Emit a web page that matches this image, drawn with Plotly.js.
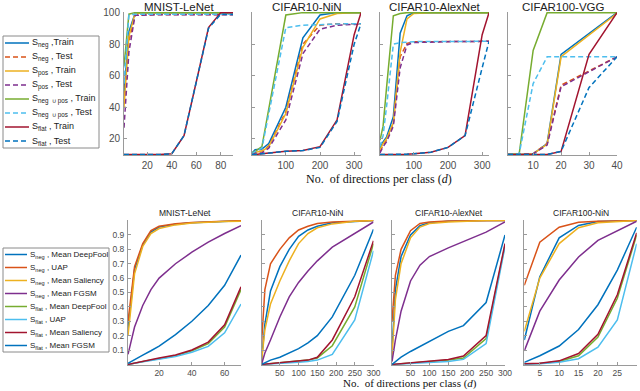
<!DOCTYPE html>
<html>
<head>
<meta charset="utf-8">
<script src="https://cdn.plot.ly/plotly-3.0.1.min.js"></script>
<style>
  html, body { margin: 0; padding: 0; background: #fff; }
  #chart { width: 640px; height: 391px; }
</style>
</head>
<body>
<div id="chart"></div>
<script>
// ---- top row: accuracy (%) vs number of directions per class ----
const topTitles = ['MNIST-LeNet', 'CIFAR10-NiN', 'CIFAR10-AlexNet', 'CIFAR100-VGG'];
const topNames = [
  'S<sub>neg</sub> ,Train', 'S<sub>neg</sub> , Test',
  'S<sub>pos</sub> , Train', 'S<sub>pos</sub> , Test',
  'S<sub>neg  \u222A pos</sub> , Train', 'S<sub>neg  \u222A pos</sub> , Test',
  'S<sub>flat</sub> , Train', 'S<sub>flat</sub> , Test'
];

// rows follow topNames
const mnistTopX = [1, 5, 10, 20, 30, 40, 50, 60, 70, 80, 90];
const mnistTopY = [
  [49, 88, 99.5, 100, 100, 100, 100, 100, 100, 100, 100],
  [42, 82, 98.5, 98.8, 98.8, 98.8, 98.8, 98.8, 98.8, 98.8, 98.8],
  [40, 85, 99.5, 100, 100, 100, 100, 100, 100, 100, 100],
  [27, 75, 98.3, 98.7, 98.7, 98.7, 98.7, 98.7, 98.7, 98.7, 98.7],
  [66, 99, 100, 100, 100, 100, 100, 100, 100, 100, 100],
  [55, 98.5, 99, 99, 99, 99, 99, 99, 99, 99, 99],
  [10, 10, 10, 10, 10, 10.5, 22, 56, 90.5, 100, 100],
  [10, 10, 10, 10, 10, 10.5, 22, 56, 90, 99, 98.8]
];

const nin10TopX = [1, 10, 30, 50, 100, 150, 200, 250, 300, 320];
const nin10TopY = [
  [11, 13, 13.5, 17, 40, 84, 98.5, 100, 100, 100],
  [10.5, 12, 12, 15.5, 37, 80, 92, 93, 93, 93],
  [10.5, 11.5, 12, 15, 36, 78, 96, 99.5, 100, 100],
  [10, 11, 11, 14, 32, 74, 89.5, 92, 92.5, 92.8],
  [11, 12, 15, 39, 98.5, 100, 100, 100, 100, 100],
  [10.5, 12, 14, 36, 90.5, 92, 92.5, 92.8, 93, 93],
  [10, 10, 10.5, 11, 12, 12.5, 15, 32, 86, 100],
  [10, 10, 10.5, 11, 12, 12.5, 14.5, 31, 80, 93]
];

const alex10TopX = [1, 10, 20, 40, 60, 80, 100, 150, 200, 250, 300, 320];
const alex10TopY = [
  [14, 18, 21, 34, 87, 98, 100, 100, 100, 100, 100, 100],
  [12, 16, 19, 30, 72, 80.5, 81.5, 81.6, 81.7, 81.8, 81.8, 81.8],
  [13, 17, 20, 30, 75, 96, 99.5, 100, 100, 100, 100, 100],
  [11, 15, 18, 28, 65, 79.5, 81, 81.5, 81.6, 81.7, 81.8, 81.8],
  [19, 28, 52, 98, 99.5, 100, 100, 100, 100, 100, 100, 100],
  [15, 22, 40, 80, 81, 81.5, 81.6, 81.7, 81.8, 81.8, 81.8, 81.8],
  [10, 10, 10, 10, 10, 10.2, 10.5, 11.5, 14.5, 22, 86, 100],
  [10, 10, 10, 10, 10, 10.2, 10.5, 11.5, 14.5, 22, 65, 81.8]
];

const vgg100TopX = [1, 5, 10, 15, 20, 30, 40];
const vgg100TopY = [
  [10, 10, 10.5, 17, 73.5, 86.8, 100],
  [10, 10, 10.5, 17, 54, 63, 72],
  [10, 10, 10.5, 16.5, 72, 86, 99.5],
  [10, 10, 10.5, 16, 53, 62.5, 72],
  [10, 10.5, 76, 100, 100, 100, 100],
  [10, 10.5, 55, 72, 72, 72, 72],
  [10, 10, 10, 10, 12, 73.5, 100],
  [10, 10, 10, 10, 12, 52.5, 72]
];

// ---- bottom row: fooling rate vs number of directions per class ----
const botTitles = ['MNIST-LeNet', 'CIFAR10-NiN', 'CIFAR10-AlexNet', 'CIFAR100-NiN'];
const botNames = [
  'S<sub>neg</sub> , Mean DeepFool', 'S<sub>neg</sub> , UAP',
  'S<sub>neg</sub> , Mean Saliency', 'S<sub>neg</sub> , Mean FGSM',
  'S<sub>flat</sub> , Mean DeepFool', 'S<sub>flat</sub> , UAP',
  'S<sub>flat</sub> , Mean Saliency', 'S<sub>flat</sub> , Mean FGSM'
];

const mnistBotX = [1, 5, 10, 15, 20, 30, 40, 50, 60, 70];
const mnistBotY = [
  [0.25, 0.66, 0.83, 0.92, 0.955, 0.975, 0.985, 0.99, 0.995, 0.998],
  [0.30, 0.68, 0.84, 0.93, 0.96, 0.978, 0.987, 0.993, 0.996, 1.0],
  [0.20, 0.63, 0.82, 0.91, 0.945, 0.97, 0.983, 0.99, 0.993, 0.996],
  [0.07, 0.26, 0.41, 0.52, 0.60, 0.70, 0.78, 0.85, 0.91, 0.965],
  [0, 0.01, 0.02, 0.03, 0.04, 0.06, 0.095, 0.145, 0.26, 0.52],
  [0, 0.01, 0.018, 0.027, 0.035, 0.055, 0.085, 0.125, 0.22, 0.42],
  [0, 0.01, 0.02, 0.032, 0.045, 0.065, 0.10, 0.155, 0.275, 0.54],
  [0.007, 0.035, 0.065, 0.095, 0.127, 0.207, 0.30, 0.41, 0.55, 0.76]
];

const nin10BotX = [1, 10, 25, 50, 75, 100, 125, 150, 190, 250, 300];
const nin10BotY = [
  [0.02, 0.28, 0.51, 0.68, 0.80, 0.89, 0.935, 0.96, 0.985, 0.995, 1.0],
  [0.14, 0.52, 0.70, 0.80, 0.88, 0.935, 0.96, 0.98, 0.99, 0.998, 1.0],
  [0.02, 0.24, 0.42, 0.58, 0.72, 0.84, 0.91, 0.95, 0.977, 0.995, 1.0],
  [0.0, 0.08, 0.17, 0.33, 0.47, 0.57, 0.65, 0.72, 0.815, 0.91, 0.99],
  [0, 0.002, 0.005, 0.01, 0.015, 0.02, 0.03, 0.045, 0.13, 0.40, 0.84],
  [0, 0.001, 0.003, 0.006, 0.01, 0.015, 0.02, 0.03, 0.07, 0.31, 0.79],
  [0, 0.002, 0.005, 0.01, 0.015, 0.02, 0.03, 0.05, 0.17, 0.47, 0.86],
  [0, 0.01, 0.03, 0.05, 0.08, 0.11, 0.15, 0.20, 0.33, 0.62, 0.94]
];

const alex10BotX = [1, 10, 25, 50, 75, 100, 150, 190, 250, 300];
const alex10BotY = [
  [0.10, 0.52, 0.75, 0.90, 0.965, 0.985, 0.995, 0.998, 1.0, 1.0],
  [0.30, 0.62, 0.80, 0.93, 0.98, 0.99, 0.997, 0.999, 1.0, 1.0],
  [0.05, 0.45, 0.70, 0.88, 0.955, 0.98, 0.99, 0.995, 1.0, 1.0],
  [0.02, 0.17, 0.37, 0.58, 0.69, 0.75, 0.81, 0.855, 0.92, 0.99],
  [0, 0.002, 0.005, 0.01, 0.015, 0.02, 0.03, 0.045, 0.18, 0.83],
  [0, 0.001, 0.003, 0.006, 0.01, 0.012, 0.02, 0.035, 0.145, 0.82],
  [0, 0.002, 0.005, 0.01, 0.015, 0.02, 0.035, 0.058, 0.20, 0.84],
  [0, 0.02, 0.05, 0.09, 0.125, 0.16, 0.23, 0.27, 0.43, 0.90]
];

const nin100BotX = [1, 5, 10, 15, 20, 25, 30];
const nin100BotY = [
  [0.17, 0.61, 0.88, 0.966, 0.993, 0.998, 1.0],
  [0.55, 0.85, 0.954, 0.988, 0.995, 1.0, 1.0],
  [0.23, 0.60, 0.84, 0.95, 0.985, 0.995, 1.0],
  [0.094, 0.37, 0.587, 0.747, 0.862, 0.93, 0.995],
  [0.004, 0.007, 0.02, 0.06, 0.19, 0.46, 0.90],
  [0.002, 0.004, 0.015, 0.04, 0.12, 0.31, 0.84],
  [0.005, 0.008, 0.025, 0.076, 0.209, 0.484, 0.915],
  [0.014, 0.06, 0.128, 0.243, 0.415, 0.656, 0.954]
];

// ---- styles (matlab default palette) ----
const blue = '#0072BD', orange = '#D95319', yellow = '#EDB120', purple = '#7E2F8E',
      green = '#77AC30', cyan = '#4DBEEE', red = '#A2142F';
const DASH = '5px,3px';
const topColors = [blue, orange, yellow, purple, green, cyan, red, blue];
const topDashes = ['solid', DASH, 'solid', DASH, 'solid', DASH, 'solid', DASH];
const botColors = [blue, orange, yellow, purple, green, cyan, red, blue];
const botDashes = Array(8).fill('solid');

// ---- page geometry (px) ----
const W = 640, H = 391;
const fx = p => p / W;
const fy = p => 1 - p / H;
const topCols = [[124, 233], [252, 361], [380, 489], [508, 617]];
const botCols = [[128, 241], [261.5, 373.5], [392, 505], [524.3, 636.7]];
const topRow = [12, 155];
const botRow = [220, 365];

const panels = [
  {title: topTitles[0], x: mnistTopX, ys: mnistTopY, xr: [1, 90], xt: [20, 40, 60, 80]},
  {title: topTitles[1], x: nin10TopX, ys: nin10TopY, xr: [1, 320], xt: [100, 200, 300]},
  {title: topTitles[2], x: alex10TopX, ys: alex10TopY, xr: [1, 320], xt: [100, 200, 300]},
  {title: topTitles[3], x: vgg100TopX, ys: vgg100TopY, xr: [1, 40], xt: [10, 20, 30, 40]},
  {title: botTitles[0], x: mnistBotX, ys: mnistBotY, xr: [1, 70], xt: [20, 40, 60]},
  {title: botTitles[1], x: nin10BotX, ys: nin10BotY, xr: [1, 300], xt: [50, 100, 150, 200, 250, 300]},
  {title: botTitles[2], x: alex10BotX, ys: alex10BotY, xr: [1, 300], xt: [50, 100, 150, 200, 250, 300]},
  {title: botTitles[3], x: nin100BotX, ys: nin100BotY, xr: [1, 30], xt: [5, 10, 15, 20, 25, 30]}
];

const sans = 'Liberation Sans, Arial, Helvetica, sans-serif';
const serif = 'Liberation Serif, Times New Roman, serif';
const axisGray = '#9a9a9a';

const traces = [];
const layout = {
  width: W, height: H,
  margin: {l: 0, r: 0, t: 0, b: 0},
  paper_bgcolor: 'white', plot_bgcolor: 'white',
  showlegend: false,
  font: {family: sans, color: '#333'},
  shapes: [], annotations: []
};

panels.forEach((p, i) => {
  const k = i === 0 ? '' : String(i + 1);
  const isTop = i < 4;
  const col = isTop ? topCols[i] : botCols[i - 4];
  const row = isTop ? topRow : botRow;
  const colors = isTop ? topColors : botColors;
  const dashes = isTop ? topDashes : botDashes;

  p.ys.forEach((y, j) => {
    traces.push({
      x: p.x, y: y, xaxis: 'x' + k, yaxis: 'y' + k,
      type: 'scatter', mode: 'lines',
      line: {color: colors[j], width: 1.5, dash: dashes[j]},
      hoverinfo: 'skip'
    });
  });

  const tickSize = isTop ? 10 : 8.5;
  layout['xaxis' + k] = {
    domain: [fx(col[0]), fx(col[1])], anchor: 'y' + k,
    range: p.xr, tickvals: p.xt, ticks: 'inside', ticklen: 3, tickcolor: axisGray,
    showline: true, linecolor: axisGray, linewidth: 1,
    showgrid: false, zeroline: false, ticklabelstandoff: isTop ? 1 : 0,
    tickfont: {size: tickSize, color: '#4d4d4d', family: sans}
  };
  layout['yaxis' + k] = {
    domain: [fy(row[1]), fy(row[0])], anchor: 'x' + k,
    range: isTop ? [9.7, 100.4] : [-0.004, 1.004],
    tickvals: isTop ? [20, 40, 60, 80, 100] : [0.1, 0.2, 0.3, 0.4, 0.5, 0.6, 0.7, 0.8, 0.9],
    ticks: 'inside', ticklen: 3, tickcolor: axisGray,
    showline: true, linecolor: axisGray, linewidth: 1,
    showgrid: false, zeroline: false, ticklabelstandoff: 1,
    showticklabels: i === 0 || i === 4,
    tickfont: {size: tickSize, color: '#4d4d4d', family: sans}
  };

  layout.annotations.push({
    xref: 'paper', yref: 'paper', showarrow: false, borderpad: 0,
    x: fx((col[0] + col[1]) / 2), y: fy(isTop ? 6.8 : 213),
    xanchor: 'center', yanchor: 'middle',
    text: p.title, font: {size: isTop ? 11.5 : 8.5, color: '#222', family: sans}
  });
});

// axis titles
layout.annotations.push({
  xref: 'paper', yref: 'paper', showarrow: false, borderpad: 0,
  x: fx(379), y: fy(179.5), xanchor: 'center', yanchor: 'middle',
  text: 'No.  of directions per class (<i>d</i>)', font: {size: 12, color: '#111', family: serif}
});
layout.annotations.push({
  xref: 'paper', yref: 'paper', showarrow: false, borderpad: 0,
  x: fx(410), y: fy(391), xanchor: 'center', yanchor: 'bottom',
  text: 'No.  of directions per class (<i>d</i>)', font: {size: 11, color: '#111', family: serif}
});

// boxed legends to the left of each row
function addLegend(box, names, colors, dashes, fontSize, lineLen) {
  layout.shapes.push({
    type: 'rect', xref: 'paper', yref: 'paper',
    x0: fx(box[0]), x1: fx(box[2]), y0: fy(box[3]), y1: fy(box[1]),
    line: {color: '#8a8a8a', width: 1}, fillcolor: 'white', layer: 'below'
  });
  const step = (box[3] - box[1]) / names.length;
  names.forEach((n, i) => {
    const yc = box[1] + step * (i + 0.5);
    layout.shapes.push({
      type: 'line', xref: 'paper', yref: 'paper',
      x0: fx(box[0] + 2), x1: fx(box[0] + 2 + lineLen), y0: fy(yc), y1: fy(yc),
      line: {color: colors[i], width: 1.5, dash: dashes[i]}
    });
    layout.annotations.push({
      xref: 'paper', yref: 'paper', showarrow: false, borderpad: 0,
      x: fx(box[0] + 4 + lineLen), y: fy(yc), xanchor: 'left', yanchor: 'middle',
      text: n, font: {size: fontSize, color: '#222', family: sans}
    });
  });
}
addLegend([3, 36, 99, 148], topNames, topColors, topDashes, 9, 24);
addLegend([3, 248, 109, 352], botNames, botColors, botDashes, 8, 22);

Plotly.newPlot('chart', traces, layout, {staticPlot: true, displayModeBar: false});
</script>
</body>
</html>
